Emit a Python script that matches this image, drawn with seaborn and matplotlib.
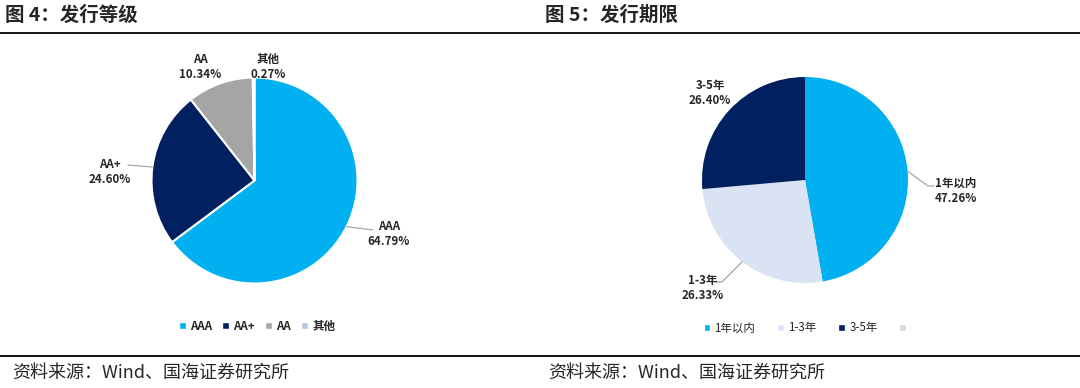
import numpy as np
import matplotlib
matplotlib.use('Agg')
import matplotlib.pyplot as plt
import seaborn as sns
from matplotlib.patches import Patch
from matplotlib.lines import Line2D

# 图4 发行等级
grade_labels = ['AAA', 'AA+', 'AA', '其他']
grade_values = [64.79, 24.60, 10.34, 0.27]
grade_colors = ['#00B0F0', '#002060', '#A5A5A5', '#B4C7E7']

# 图5 发行期限 (第四项为空类别)
term_labels = ['1年以内', '1-3年', '3-5年', '']
term_values = [47.26, 26.33, 26.40, 0]
term_colors = ['#00B0F0', '#DAE3F3', '#002060', '#D9D9D9']

sns.set_style('white')
plt.rcParams['font.family'] = ['Noto Sans CJK SC', 'DejaVu Sans']

W, H = 1080, 388
fig = plt.figure(figsize=(W / 100, H / 100), dpi=100)

R = 103      # 饼图半径 (px)
HALF = 130   # 饼图坐标轴半宽 (px)


def pie_axes(cx, cy):
    ax = fig.add_axes([(cx - HALF) / W, (H - cy - HALF) / H, 2 * HALF / W, 2 * HALF / H])
    return ax


def px(cx, cy, x, y):
    return (x - cx) / R, -(y - cy) / R


def draw_pie(cx, cy, values, colors, labels, edge, label_pos, leaders):
    ax = pie_axes(cx, cy)
    wedges, _ = ax.pie(values, colors=colors, startangle=90, counterclock=False,
                       radius=1, wedgeprops=edge)
    ax.set_xlim(-HALF / R, HALF / R)
    ax.set_ylim(-HALF / R, HALF / R)
    ax.set_aspect('equal')
    ax.axis('off')
    for i, (lab, val) in enumerate(zip(labels, values)):
        if lab == '':
            continue
        tx, ty = px(cx, cy, *label_pos[i])
        ax.text(tx, ty, f'{lab}\n{val:.2f}%', ha='center', va='center', fontsize=8.3,
                fontweight='bold', linespacing=1.25, clip_on=False)
        if i in leaders:
            w = wedges[i]
            mid = np.deg2rad((w.theta1 + w.theta2) / 2)
            xs = [np.cos(mid)] + [px(cx, cy, *p)[0] for p in leaders[i]]
            ys = [np.sin(mid)] + [px(cx, cy, *p)[1] for p in leaders[i]]
            ax.plot(xs, ys, color='#A6A6A6', lw=0.9, clip_on=False)
    return ax


draw_pie(254.5, 180.5, grade_values, grade_colors, grade_labels,
         dict(edgecolor='white', linewidth=1.5),
         {0: (389, 234), 1: (110, 172), 2: (200, 67), 3: (268, 67)},
         {0: [(373, 230)], 1: [(128, 165)]})

draw_pie(805, 180, term_values, term_colors, term_labels,
         dict(edgecolor='none', linewidth=0),
         {0: (956, 191), 1: (703, 288), 2: (710, 93)},
         {0: [(928, 186), (934, 186)], 1: [(722, 282), (716, 282)]})

# 图例
fig.legend([Patch(facecolor=c) for c in grade_colors], grade_labels, loc='center',
           bbox_to_anchor=(257 / W, 1 - 326 / H), ncol=4, frameon=False,
           prop={'size': 8.3, 'weight': 'bold'}, handlelength=0.6, handleheight=0.6,
           handletextpad=0.35, columnspacing=0.9)
fig.legend([Patch(facecolor=c) for c in term_colors], term_labels, loc='center',
           bbox_to_anchor=(807 / W, 1 - 328 / H), ncol=4, frameon=False,
           prop={'size': 8.3}, handlelength=0.6, handleheight=0.6,
           handletextpad=0.35, columnspacing=1.9)

# 标题、分隔线、资料来源
fig.text(5 / W, 1 - 15 / H, '图 4：发行等级', fontsize=14, fontweight='bold', va='center')
fig.text(545 / W, 1 - 15 / H, '图 5：发行期限', fontsize=14, fontweight='bold', va='center')
for y in (32.5, 355.5):
    fig.add_artist(Line2D([0, 1], [1 - y / H] * 2, color='black', lw=1.3))
fig.text(12 / W, 1 - 373 / H, '资料来源：Wind、国海证券研究所', fontsize=13, va='center')
fig.text(548 / W, 1 - 373 / H, '资料来源：Wind、国海证券研究所', fontsize=13, va='center')

fig.savefig('out.png', dpi=100)
